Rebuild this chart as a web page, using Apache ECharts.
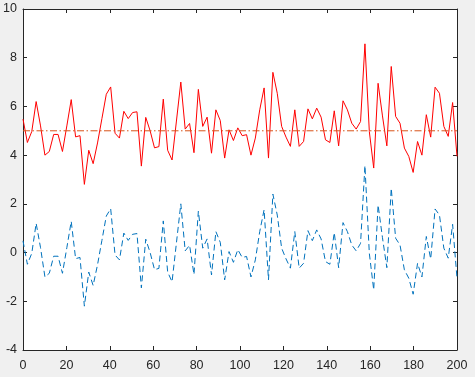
<!DOCTYPE html>
<html>
<head>
    <meta http-equiv="content-type" content="text/html;charset=utf-8">
    <script src="https://cdn.jsdelivr.net/npm/echarts@6/dist/echarts.min.js"></script>
    <style>
        html, body { margin: 0; padding: 0; background: #f0f0f0; }
        #chart { width: 475px; height: 377px; }
    </style>
</head>
<body>
<div id="chart"></div>

<script type="text/javascript">
    // signal (red), 100 samples over 0..200
    var signal = [
        5.48, 4.52, 4.97, 6.2, 5.2, 4.0, 4.15, 4.85, 4.85, 4.15,
        5.2, 6.28, 4.75, 4.8, 2.8, 4.2, 3.65, 4.5, 5.5, 6.5,
        6.8, 4.9, 4.7, 5.8, 5.5, 5.75, 5.78, 3.55, 5.55, 5.0,
        4.3, 4.35, 6.3, 4.2, 3.8, 5.4, 7.0, 5.07, 5.3, 4.1,
        6.7, 5.18, 5.56, 4.08, 5.86, 5.42, 3.88, 5.04, 4.6, 5.12,
        4.8, 4.84, 4.0, 4.7, 5.86, 6.76, 3.88, 7.4, 6.54, 5.18,
        4.74, 4.36, 5.86, 4.36, 4.56, 5.9, 5.49, 5.93, 5.56, 4.63,
        4.52, 5.82, 4.38, 6.23, 5.86, 5.31, 5.07, 5.38, 8.57, 4.97,
        3.47, 6.95, 5.61, 4.38, 7.64, 5.59, 5.31, 4.29, 3.95, 3.29,
        4.56, 4.0, 5.66, 4.74, 6.79, 6.54, 5.18, 4.77, 6.16, 3.95
    ];
    // centred signal (blue dashed)
    var centred = [
        0.48, -0.48, -0.03, 1.2, 0.2, -1.0, -0.85, -0.15, -0.15, -0.85,
        0.2, 1.28, -0.25, -0.2, -2.2, -0.8, -1.35, -0.5, 0.5, 1.5,
        1.8, -0.1, -0.3, 0.8, 0.5, 0.75, 0.78, -1.45, 0.55, 0.0,
        -0.7, -0.65, 1.3, -0.8, -1.2, 0.4, 2.0, 0.07, 0.3, -0.9,
        1.7, 0.18, 0.56, -0.92, 0.86, 0.42, -1.12, 0.04, -0.4, 0.12,
        -0.2, -0.16, -1.0, -0.3, 0.86, 1.76, -1.12, 2.4, 1.54, 0.18,
        -0.26, -0.64, 0.86, -0.64, -0.44, 0.9, 0.49, 0.93, 0.56, -0.37,
        -0.48, 0.82, -0.62, 1.23, 0.86, 0.31, 0.07, 0.38, 3.57, -0.03,
        -1.53, 1.95, 0.61, -0.62, 2.64, 0.59, 0.31, -0.71, -1.05, -1.71,
        -0.44, -1.0, 0.66, -0.26, 1.79, 1.54, 0.18, -0.23, 1.16, -1.05
    ];
    var meanLevel = 5;
    var xRange = [0, 200];
    var yRange = [-4, 10];
    var xTickStep = 20;
    var yTickStep = 2;

    function withX(arr) {
        var step = (xRange[1] - xRange[0]) / (arr.length - 1);
        return arr.map(function (v, i) { return [xRange[0] + i * step, v]; });
    }

    var axisCol = '#262626';
    var font = 'Liberation Sans, Arial, sans-serif';

    // one axis of the box; labels only on bottom/left
    function boxAxis(pos, range, step, labelled, margin) {
        return {
            type: 'value', position: pos, min: range[0], max: range[1], interval: step,
            axisLine: { show: true, onZero: false, lineStyle: { color: axisCol, width: 1 } },
            axisTick: { show: true, inside: true, length: 4, lineStyle: { color: axisCol } },
            axisLabel: { show: labelled, color: axisCol, fontFamily: font, fontSize: 12.5, margin: margin },
            splitLine: { show: false }
        };
    }

    var myChart = echarts.init(document.getElementById('chart'));
    var option = {
        backgroundColor: '#f0f0f0',
        animation: false,
        grid: {
            left: 23, top: 9, width: 434, height: 341,
            show: true, backgroundColor: '#ffffff', borderWidth: 0
        },
        xAxis: [
            boxAxis('bottom', xRange, xTickStep, true, 9),
            boxAxis('top', xRange, xTickStep, false, 0)
        ],
        yAxis: [
            boxAxis('left', yRange, yTickStep, true, 6),
            boxAxis('right', yRange, yTickStep, false, 0)
        ],
        series: [
            {
                type: 'line', data: withX(signal), showSymbol: false,
                lineStyle: { color: '#ff0000', width: 1 }
            },
            {
                type: 'line', data: [[xRange[0], meanLevel], [xRange[1], meanLevel]], showSymbol: false,
                lineStyle: { color: '#d95319', width: 1, type: [7, 2.5, 1.5, 2.5] }
            },
            {
                type: 'line', data: withX(centred), showSymbol: false,
                lineStyle: { color: '#0072bd', width: 1, type: [6, 3.5] }
            }
        ]
    };
    myChart.setOption(option);
</script>
</body>
</html>
